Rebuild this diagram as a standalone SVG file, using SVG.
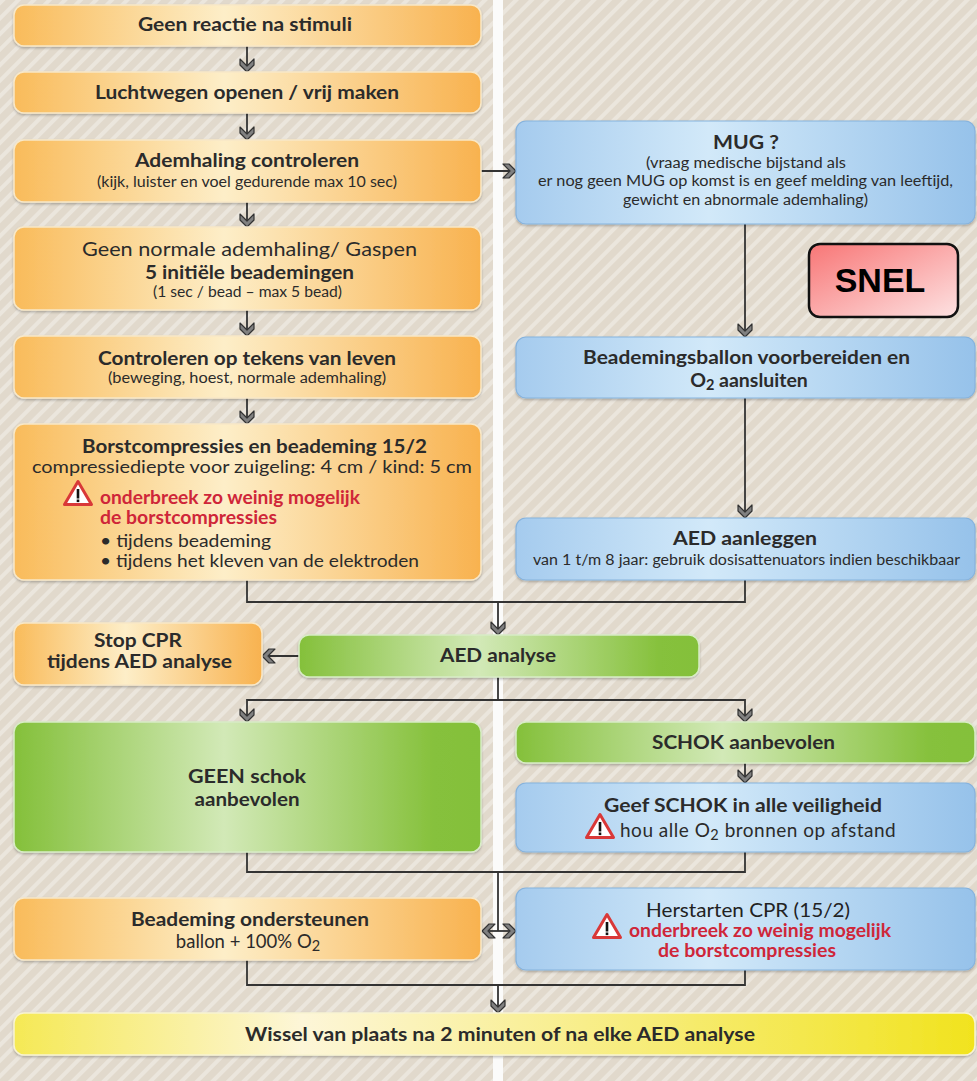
<svg xmlns="http://www.w3.org/2000/svg" xmlns:xlink="http://www.w3.org/1999/xlink" width="977" height="1081" viewBox="0 0 977 1081">
<defs>
<pattern id="stripes" width="11" height="11" patternUnits="userSpaceOnUse" patternTransform="rotate(45)">
<rect width="11" height="11" fill="#e1d9cc"/>
<rect width="4" height="11" fill="#ebe6dd"/>
</pattern>
<linearGradient id="gO" x1="0" y1="0" x2="1" y2="0">
<stop offset="0" stop-color="#f9bb5a"/><stop offset="0.45" stop-color="#fdeec8"/><stop offset="1" stop-color="#f8b24f"/>
</linearGradient>
<linearGradient id="gB" x1="0" y1="0" x2="1" y2="0">
<stop offset="0" stop-color="#a5cbee"/><stop offset="0.42" stop-color="#d2e9f9"/><stop offset="1" stop-color="#96c2ea"/>
</linearGradient>
<linearGradient id="gG" x1="0" y1="0" x2="1" y2="0">
<stop offset="0" stop-color="#84c03a"/><stop offset="0.45" stop-color="#d2e9b7"/><stop offset="0.9" stop-color="#86c13c"/><stop offset="1" stop-color="#84c03a"/>
</linearGradient>
<linearGradient id="gY" x1="0" y1="0" x2="1" y2="0">
<stop offset="0" stop-color="#f5e955"/><stop offset="0.3" stop-color="#fdf6d8"/><stop offset="1" stop-color="#f1e31e"/>
</linearGradient>
<linearGradient id="gR" x1="0" y1="0" x2="1" y2="1">
<stop offset="0" stop-color="#f87676"/><stop offset="1" stop-color="#fde2e2"/>
</linearGradient>
<filter id="sh" x="-5%" y="-10%" width="110%" height="130%">
<feDropShadow dx="0" dy="1.5" stdDeviation="1.2" flood-color="#000" flood-opacity="0.25"/>
</filter>
<marker id="chev" viewBox="0 0 16 16" refX="14" refY="8" markerWidth="16" markerHeight="16" markerUnits="userSpaceOnUse" orient="auto">
<path d="M1,1 L7,1 L14,8 L7,15 L1,15 L8,8 Z" fill="#808080" stroke="#333" stroke-width="1.2" stroke-linejoin="round"/>
</marker>
<g id="warn">
<path d="M15,2.5 L28.5,25.5 L1.5,25.5 Z" fill="#fff" stroke="#d93838" stroke-width="3" stroke-linejoin="round"/>
<rect x="13.7" y="10" width="2.6" height="9.5" fill="#111"/>
<rect x="13.7" y="20.5" width="2.6" height="2.6" fill="#111"/>
</g>
<style>
.o{fill:url(#gO);stroke:#f8e8c8;stroke-width:1.5;filter:url(#sh)}
.bl{fill:url(#gB);stroke:#86b3de;stroke-width:1.2;filter:url(#sh)}
.gr{fill:url(#gG);stroke:#d8ecc6;stroke-width:1.5;filter:url(#sh)}
.ye{fill:url(#gY);stroke:#f8f3d2;stroke-width:1.5;filter:url(#sh)}
text{font-family:Lato,"Open Sans","Liberation Sans",sans-serif;fill:#2b2b2b;text-anchor:middle}
.h{font-weight:700;font-size:19.5px}
.m{font-size:19px}
.n{font-size:18px}
.s{font-size:14.5px}
.red{fill:#cf2639;font-weight:700;font-size:18px}
.st{text-anchor:start}
.c path{fill:none;stroke:#333;stroke-width:1.8}
.c .a{marker-end:url(#chev)}
</style>
</defs>
<rect width="977" height="1081" fill="url(#stripes)"/>
<rect x="493" y="0" width="10" height="1081" fill="#fbfbfa"/>

<g class="c" id="connectors">
<path class="a" d="M247,46 V72"/>
<path class="a" d="M247,113 V140"/>
<path class="a" d="M247,202 V227"/>
<path class="a" d="M247,310 V336"/>
<path class="a" d="M247,398 V424"/>
<path class="a" d="M481,171 H516"/>
<path class="a" d="M745,224 V337"/>
<path class="a" d="M745,398 V518"/>
<path d="M247,580 V602 H745 V580"/>
<path class="a" d="M498,602 V635"/>
<path class="a" d="M299,656 H262"/>
<path d="M498,677 V700"/>
<path class="a" d="M498,700 H247 V722"/>
<path class="a" d="M498,700 H745 V722"/>
<path class="a" d="M745,763 V783"/>
<path d="M247,852 V872 H745 V852"/>
<path d="M498,872 V931"/>
<path class="a" d="M498,931 H482"/>
<path class="a" d="M498,931 H516"/>
<path d="M247,960 V985 H745 V970"/>
<path class="a" d="M498,985 V1013"/>
</g>

<g id="n1"><rect class="o" x="14" y="5" width="467" height="41" rx="10"/>
<text class="h" x="245" y="31" textLength="214" lengthAdjust="spacingAndGlyphs">Geen reactie na stimuli</text></g>

<g id="n2"><rect class="o" x="14" y="72" width="467" height="41" rx="10"/>
<text class="h" x="247" y="99" textLength="304" lengthAdjust="spacingAndGlyphs">Luchtwegen openen / vrij maken</text></g>

<g id="n3"><rect class="o" x="14" y="140" width="467" height="62" rx="10"/>
<text class="h" x="247" y="167" textLength="224" lengthAdjust="spacingAndGlyphs">Ademhaling controleren</text>
<text class="s" x="247" y="187" textLength="300" lengthAdjust="spacingAndGlyphs">(kijk, luister en voel gedurende max 10 sec)</text></g>

<g id="n4"><rect class="o" x="14" y="227" width="467" height="83" rx="10"/>
<text class="m" x="249.5" y="256" textLength="335" lengthAdjust="spacingAndGlyphs">Geen normale ademhaling/ Gaspen</text>
<text class="h" x="249.5" y="279" textLength="209" lengthAdjust="spacingAndGlyphs">5 initiële beademingen</text>
<text class="s" x="247.5" y="297" textLength="189" lengthAdjust="spacingAndGlyphs">(1 sec / bead – max 5 bead)</text></g>

<g id="n5"><rect class="o" x="14" y="336" width="467" height="62" rx="10"/>
<text class="h" x="247" y="365" textLength="298" lengthAdjust="spacingAndGlyphs">Controleren op tekens van leven</text>
<text class="s" x="247" y="383" textLength="278" lengthAdjust="spacingAndGlyphs">(beweging, hoest, normale ademhaling)</text></g>

<g id="n6"><rect class="o" x="14" y="424" width="467" height="156" rx="10"/>
<text class="h" x="254.5" y="453" textLength="345" lengthAdjust="spacingAndGlyphs">Borstcompressies en beademing 15/2</text>
<text class="n" x="252" y="473" textLength="440" lengthAdjust="spacingAndGlyphs">compressiediepte voor zuigeling: 4 cm / kind: 5 cm</text>
<use href="#warn" x="63" y="479"/>
<text class="red st" x="100" y="504" textLength="260" lengthAdjust="spacingAndGlyphs">onderbreek zo weinig mogelijk</text>
<text class="red st" x="100" y="524" textLength="177" lengthAdjust="spacingAndGlyphs">de borstcompressies</text>
<text class="n st" x="100" y="547" textLength="171" lengthAdjust="spacingAndGlyphs">• tijdens beademing</text>
<text class="n st" x="100" y="567" textLength="319" lengthAdjust="spacingAndGlyphs">• tijdens het kleven van de elektroden</text></g>

<g id="n7"><rect class="o" x="14" y="623" width="248" height="62" rx="10"/>
<text class="h" x="138" y="647" textLength="88" lengthAdjust="spacingAndGlyphs">Stop CPR</text>
<text class="h" x="139.5" y="668" textLength="185" lengthAdjust="spacingAndGlyphs">tijdens AED analyse</text></g>

<g id="n8"><rect class="gr" x="299" y="635" width="400" height="42" rx="10"/>
<text class="h" x="498" y="662" textLength="116" lengthAdjust="spacingAndGlyphs">AED analyse</text></g>

<g id="n9"><rect class="gr" x="14" y="722" width="467" height="130" rx="10"/>
<text class="h" x="247" y="783" textLength="118" lengthAdjust="spacingAndGlyphs">GEEN schok</text>
<text class="h" x="247" y="806" textLength="105" lengthAdjust="spacingAndGlyphs">aanbevolen</text></g>

<g id="n10"><rect class="o" x="14" y="898" width="467" height="62" rx="10"/>
<text class="h" x="250" y="926" textLength="238" lengthAdjust="spacingAndGlyphs">Beademing ondersteunen</text>
<text class="n" x="248" y="948" style="font-size:18.5px">ballon + 100% O<tspan font-size="14.5" dy="3">2</tspan></text></g>

<g id="n11"><rect class="ye" x="14" y="1013" width="961" height="42" rx="10"/>
<text class="h" x="500" y="1041" textLength="510" lengthAdjust="spacingAndGlyphs">Wissel van plaats na 2 minuten of na elke AED analyse</text></g>

<g id="n12"><rect class="bl" x="516" y="121" width="459" height="103" rx="10"/>
<text class="h" x="746" y="149" textLength="66" lengthAdjust="spacingAndGlyphs">MUG ?</text>
<text class="s" x="746" y="168" textLength="200" lengthAdjust="spacingAndGlyphs">(vraag medische bijstand als</text>
<text class="s" x="745.5" y="186" textLength="415" lengthAdjust="spacingAndGlyphs">er nog geen MUG op komst is en geef melding van leeftijd,</text>
<text class="s" x="745.5" y="205" textLength="245" lengthAdjust="spacingAndGlyphs">gewicht en abnormale ademhaling)</text></g>

<g id="n13"><rect x="809" y="244" width="149" height="73" rx="11" fill="url(#gR)" stroke="#111" stroke-width="2.5"/>
<text x="880" y="292" style="font-family:'Liberation Sans',Arial,sans-serif;font-weight:700;font-size:34px;fill:#000">SNEL</text></g>

<g id="n14"><rect class="bl" x="516" y="337" width="459" height="61" rx="10"/>
<text class="h" x="746.5" y="364" textLength="327" lengthAdjust="spacingAndGlyphs">Beademingsballon voorbereiden en</text>
<text class="h" x="749" y="387" style="font-size:19.5px">O<tspan font-size="14.5" dy="3">2</tspan><tspan dy="-3"> aansluiten</tspan></text></g>

<g id="n15"><rect class="bl" x="516" y="518" width="459" height="62" rx="10"/>
<text class="h" x="745" y="545" textLength="144" lengthAdjust="spacingAndGlyphs">AED aanleggen</text>
<text class="s" x="746.5" y="565" textLength="427" lengthAdjust="spacingAndGlyphs">van 1 t/m 8 jaar: gebruik dosisattenuators indien beschikbaar</text></g>

<g id="n16"><rect class="gr" x="516" y="722" width="459" height="41" rx="10"/>
<text class="h" x="743.5" y="749" textLength="183" lengthAdjust="spacingAndGlyphs">SCHOK aanbevolen</text></g>

<g id="n17"><rect class="bl" x="516" y="783" width="459" height="69" rx="10"/>
<text class="h" x="743" y="812" textLength="278" lengthAdjust="spacingAndGlyphs">Geef SCHOK in alle veiligheid</text>
<use href="#warn" x="585" y="812"/>
<text class="n st" x="620" y="837" style="font-size:19px;letter-spacing:0.5px">hou alle O<tspan font-size="14.5" dy="3">2</tspan><tspan dy="-3"> bronnen op afstand</tspan></text></g>

<g id="n18"><rect class="bl" x="516" y="888" width="459" height="82" rx="10"/>
<text class="m" x="748" y="917" textLength="204" lengthAdjust="spacingAndGlyphs" style="fill:#222">Herstarten CPR (15/2)</text>
<use href="#warn" x="592" y="912"/>
<text class="red st" x="629" y="937" textLength="262" lengthAdjust="spacingAndGlyphs">onderbreek zo weinig mogelijk</text>
<text class="red" x="747" y="957" textLength="178" lengthAdjust="spacingAndGlyphs">de borstcompressies</text></g>
</svg>
